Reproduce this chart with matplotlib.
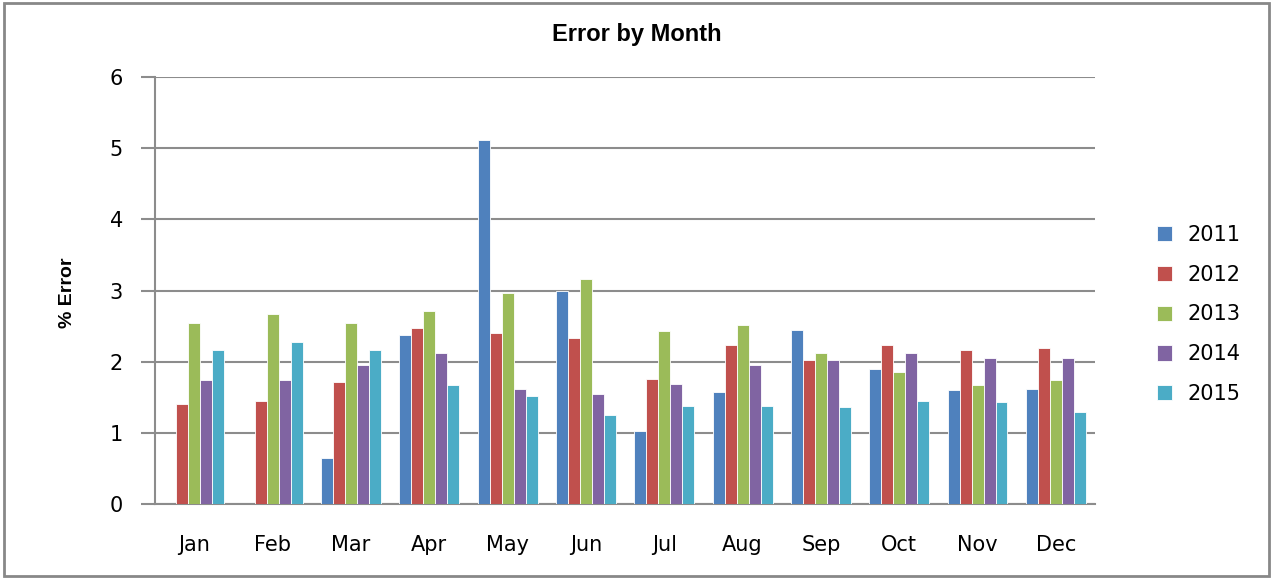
import numpy as np
import matplotlib
matplotlib.use('Agg')
import matplotlib.pyplot as plt
import matplotlib.patches as patches

# values
months = ['Jan', 'Feb', 'Mar', 'Apr', 'May', 'Jun', 'Jul', 'Aug', 'Sep', 'Oct', 'Nov', 'Dec']
years = ['2011', '2012', '2013', '2014', '2015']
err_2011 = [0, 0, 0.65, 2.38, 5.11, 3.00, 1.03, 1.57, 2.45, 1.90, 1.60, 1.62]
err_2012 = [1.41, 1.45, 1.72, 2.47, 2.40, 2.33, 1.76, 2.24, 2.03, 2.24, 2.17, 2.19]
err_2013 = [2.54, 2.67, 2.54, 2.71, 2.97, 3.16, 2.43, 2.52, 2.12, 1.86, 1.67, 1.74]
err_2014 = [1.74, 1.74, 1.96, 2.12, 1.62, 1.55, 1.69, 1.96, 2.03, 2.12, 2.05, 2.05]
err_2015 = [2.17, 2.28, 2.17, 1.67, 1.52, 1.26, 1.38, 1.38, 1.36, 1.45, 1.43, 1.29]
series = [err_2011, err_2012, err_2013, err_2014, err_2015]
colors = ['#4F81BD', '#C0504D', '#9BBB59', '#8064A2', '#4BACC6']

fig = plt.figure(figsize=(12.73, 5.78), dpi=100)
ax = fig.add_axes([0.1218, 0.1275, 0.7384, 0.7398])

# outer chart frame
fig.patches.append(patches.Rectangle((0.003, 0.003), 0.994, 0.991, transform=fig.transFigure,
                                     fill=False, edgecolor='#888888', linewidth=2))

x = np.arange(len(months))
bw = 0.153
for i, (vals, c, yr) in enumerate(zip(series, colors, years)):
    ax.bar(x + (i - 2) * bw, vals, bw, color=c, edgecolor='white', linewidth=0.6, label=yr, zorder=3)

ax.set_xlim(-0.5, 11.5)
ax.set_ylim(0, 6)
ax.set_yticks(range(7))
ax.yaxis.grid(True, color='#8c8c8c', linewidth=1.5, zorder=0)
ax.set_xticks(x)
ax.set_xticklabels(months, fontsize=15)
ax.tick_params(axis='x', length=0, pad=22)
ax.tick_params(axis='y', labelsize=15, length=10, color='#8c8c8c', width=1.5, pad=13)
for s in ['top', 'right']:
    ax.spines[s].set_visible(False)
ax.spines['left'].set_color('#8c8c8c')
ax.spines['left'].set_linewidth(1.5)
ax.spines['bottom'].set_color('#8c8c8c')
ax.spines['bottom'].set_linewidth(1.5)

fig.text(0.5, 0.94, 'Error by Month', ha='center', va='center', fontsize=17,
         fontweight='bold', family='Liberation Sans')
fig.text(0.053, 0.493, '% Error', ha='center', va='center', rotation=90, fontsize=14,
         fontweight='bold', family='Liberation Sans')

leg = fig.legend(loc='center left', bbox_to_anchor=(0.894, 0.456), frameon=False,
                 fontsize=15, handlelength=0.75, handleheight=0.75, labelspacing=0.95,
                 handletextpad=0.7)

plt.savefig('out.png', dpi=100)
